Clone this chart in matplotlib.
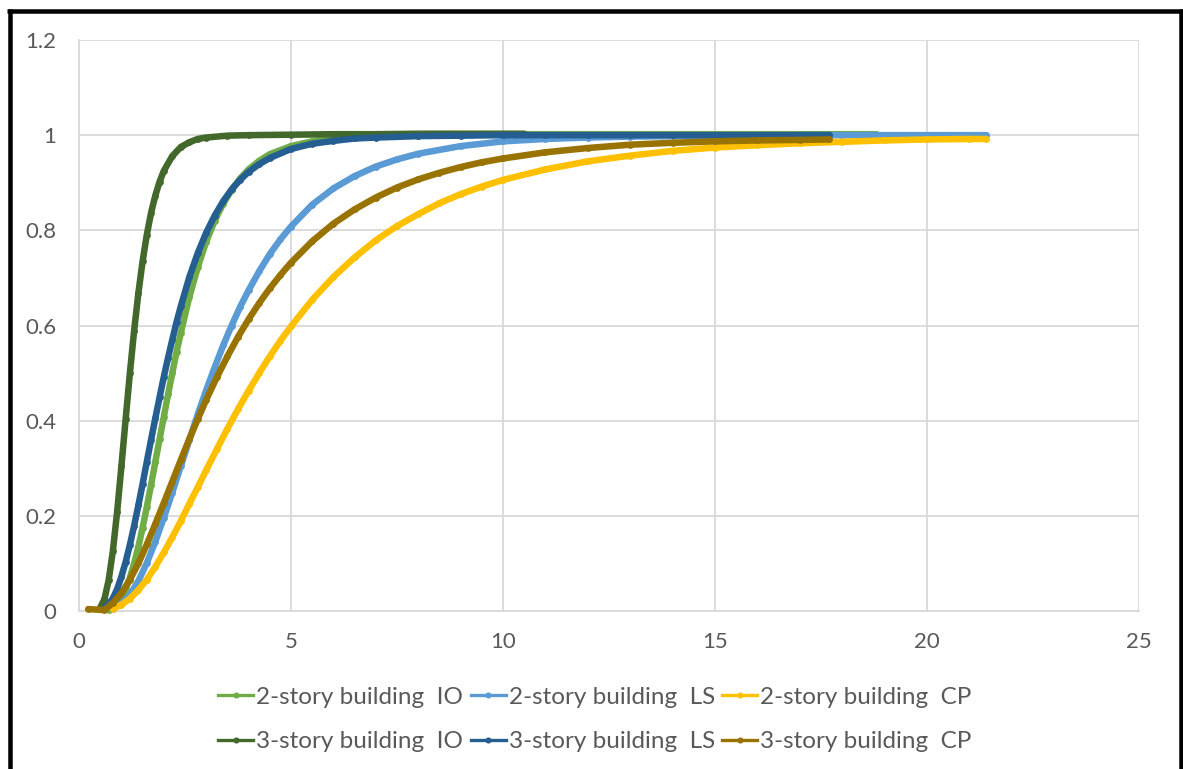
import matplotlib
matplotlib.use("Agg")
import matplotlib.pyplot as plt
from matplotlib.lines import Line2D

# Fragility curves: probability of exceedance vs. intensity measure
s2_io_x = [0.7, 0.8, 0.9, 1.0, 1.1, 1.2, 1.3, 1.4, 1.5, 1.6, 1.7, 1.8, 1.9, 2.0, 2.1, 2.2, 2.3, 2.4,
           2.6, 2.8, 3.0, 3.2, 3.4, 3.6, 3.8, 4.0, 4.25, 4.5, 5.0, 5.5, 6.0, 6.5, 7.0,
           8, 9, 10, 11, 12, 13, 14, 15, 16, 17, 18, 18.8]
s2_io_y = [0.003, 0.007, 0.015, 0.027, 0.046, 0.070, 0.100, 0.135, 0.175, 0.219, 0.265, 0.313, 0.361,
           0.408, 0.455, 0.500, 0.544, 0.584,
           0.659, 0.722, 0.776, 0.820, 0.856, 0.885, 0.909, 0.928, 0.946, 0.960,
           0.977, 0.987, 0.993, 0.996, 0.998,
           0.999, 1.000, 1.002, 1.002, 1.002, 1.002, 1.002, 1.002, 1.002, 1.002, 1.002, 1.002]

s2_ls_x = [0.8, 1.0, 1.2, 1.4, 1.6, 1.8, 2.0, 2.2, 2.4, 2.6, 2.8, 3.0, 3.2, 3.4, 3.6, 3.8, 4.0,
           4.25, 4.5, 4.75, 5.0, 5.5, 6.0, 6.5, 7.0, 7.5, 8,
           9, 10, 11, 12, 13, 14, 15, 16, 17, 18, 19, 20, 21, 21.4]
s2_ls_y = [0.005, 0.015, 0.034, 0.063, 0.101, 0.146, 0.196, 0.249, 0.304, 0.359, 0.413, 0.464, 0.512,
           0.558, 0.600, 0.639, 0.674,
           0.714, 0.750, 0.781, 0.808, 0.854, 0.888, 0.914, 0.934, 0.949, 0.961,
           0.977, 0.987, 0.992, 0.995, 0.997, 0.998, 0.999, 0.999, 1.0, 1.0, 1.0, 1.0, 1.0, 1.0]

s2_cp_x = [0.8, 1.0, 1.2, 1.4, 1.6, 1.8, 2.0, 2.2, 2.4, 2.6, 2.8, 3.0,
           3.25, 3.5, 3.75, 4.0, 4.25, 4.5, 4.75, 5.0,
           5.5, 6.0, 6.5, 7.0, 7.5, 8, 8.5, 9, 9.5, 10,
           11, 12, 13, 14, 15, 16, 17, 18, 19, 20, 21, 21.4]
s2_cp_y = [0.005, 0.013, 0.026, 0.044, 0.066, 0.093, 0.123, 0.155, 0.189, 0.225, 0.260, 0.296,
           0.340, 0.383, 0.424, 0.463, 0.500, 0.535, 0.568, 0.598,
           0.654, 0.702, 0.743, 0.779, 0.809, 0.834, 0.857, 0.876, 0.892, 0.906,
           0.928, 0.945, 0.957, 0.967, 0.974, 0.979, 0.983, 0.986, 0.989, 0.991, 0.992, 0.992]

s3_io_x = [0.5, 0.6, 0.7, 0.8, 0.9, 1.0, 1.1, 1.2, 1.3, 1.4, 1.5, 1.6, 1.7, 1.8, 1.9, 2.0,
           2.2, 2.4, 2.6, 2.8, 3.0, 3.5, 4.0, 5, 6, 7, 8, 9, 10, 10.5]
s3_io_y = [0.007, 0.025, 0.065, 0.127, 0.209, 0.304, 0.403, 0.500, 0.589, 0.668, 0.735, 0.791,
           0.837, 0.873, 0.902, 0.925,
           0.956, 0.975, 0.985, 0.992, 0.995, 0.999, 1.0, 1.001, 1.002, 1.002, 1.003, 1.003, 1.003, 1.003]

s3_ls_x = [0.6, 0.7, 0.8, 0.9, 1.0, 1.1, 1.2, 1.3, 1.4, 1.5, 1.6, 1.7, 1.8, 1.9, 2.0, 2.1, 2.2, 2.3, 2.4,
           2.6, 2.8, 3.0, 3.2, 3.4, 3.6, 3.8, 4.0, 4.25, 4.5, 5.0, 5.5, 6.0, 6.5, 7.0,
           8, 9, 10, 11, 12, 13, 14, 15, 16, 17, 17.7]
s3_ls_y = [0.006, 0.014, 0.027, 0.046, 0.072, 0.103, 0.139, 0.179, 0.222, 0.267, 0.314, 0.360, 0.405,
           0.449, 0.492, 0.532, 0.570, 0.607, 0.640,
           0.701, 0.752, 0.795, 0.831, 0.861, 0.886, 0.906, 0.923, 0.939, 0.952,
           0.971, 0.982, 0.988, 0.993, 0.995,
           0.998, 0.999, 1.0, 1.0, 1.0, 1.0, 1.0, 1.0, 1.0, 1.0, 1.0]

s3_cp_x = [0.22, 0.6, 0.8, 1.0, 1.2, 1.4, 1.6, 1.8, 2.0, 2.2, 2.4, 2.6, 2.8, 3.0,
           3.25, 3.5, 3.75, 4.0, 4.25, 4.5, 4.75, 5.0,
           5.5, 6.0, 6.5, 7.0, 7.5, 8, 8.5, 9, 9.5, 10,
           11, 12, 13, 14, 15, 16, 17, 17.7]
s3_cp_y = [0.004, 0.002, 0.017, 0.037, 0.066, 0.100, 0.140, 0.183, 0.227, 0.272, 0.317, 0.361, 0.403, 0.444,
           0.491, 0.535, 0.576, 0.613, 0.647, 0.678, 0.706, 0.732,
           0.777, 0.814, 0.844, 0.869, 0.890, 0.907, 0.921, 0.933, 0.943, 0.951,
           0.964, 0.973, 0.980, 0.984, 0.987, 0.989, 0.990, 0.991]

series = [
    ("2-story building  IO", s2_io_x, s2_io_y, "#70AD47"),
    ("2-story building  LS", s2_ls_x, s2_ls_y, "#5B9BD5"),
    ("2-story building  CP", s2_cp_x, s2_cp_y, "#FFC000"),
    ("3-story building  IO", s3_io_x, s3_io_y, "#43682B"),
    ("3-story building  LS", s3_ls_x, s3_ls_y, "#255E91"),
    ("3-story building  CP", s3_cp_x, s3_cp_y, "#997300"),
]

x_ticks = [0, 5, 10, 15, 20, 25]
y_ticks = [0, 0.2, 0.4, 0.6, 0.8, 1.0, 1.2]
y_tick_labels = ["0", "0.2", "0.4", "0.6", "0.8", "1", "1.2"]

plt.rcParams["font.family"] = ["Lato", "DejaVu Sans"]
TEXT = "#595959"
GRID = "#D9D9D9"

W, H = 1183, 769
fig = plt.figure(figsize=(W / 100, H / 100), dpi=100)
ax = fig.add_axes([79 / W, 1 - 611 / H, (1139 - 79) / W, (611 - 40) / H])

for i, (label, xs, ys, color) in enumerate(series):
    ax.plot(xs, ys, color=color, lw=4.7, marker="o", ms=4.9, mew=0,
            solid_joinstyle="round", solid_capstyle="round", zorder=3 + i, clip_on=False)

ax.set_xlim(0, 25)
ax.set_ylim(0, 1.2)
ax.set_xticks(x_ticks)
ax.set_xticklabels([str(t) for t in x_ticks])
ax.set_yticks(y_ticks)
ax.set_yticklabels(y_tick_labels)
ax.grid(True, color=GRID, lw=1.3, zorder=0)
ax.set_axisbelow(True)
for side, sp in ax.spines.items():
    if side in ("left", "bottom"):
        sp.set_color(GRID)
        sp.set_linewidth(1.3)
    else:
        sp.set_visible(False)
ax.tick_params(axis="both", length=0, colors=TEXT, labelsize=16)
ax.tick_params(axis="y", pad=16.5)
ax.tick_params(axis="x", pad=15)

# legend: two rows, three columns (row-major order)
handles = {}
for label, xs, ys, color in series:
    handles[label] = Line2D([], [], color=color, lw=2.4, marker="o", ms=4.4, mew=0)
order = [0, 3, 1, 4, 2, 5]
labels = [series[k][0] for k in order]
leg = fig.legend([handles[l] for l in labels], labels, loc="center",
                 bbox_to_anchor=(595 / W, 1 - 719.5 / H), ncol=3, frameon=False,
                 fontsize=17.5, handlelength=1.45, handletextpad=0.12, columnspacing=0.3,
                 labelspacing=0.98, borderaxespad=0)
for t in leg.get_texts():
    t.set_color(TEXT)

# black frame around the chart (left, top, right)
lw_px = 4.5
kw = dict(color="black", lw=lw_px * 72 / 100, solid_capstyle="butt")
fig.add_artist(Line2D([9.5 / W, 9.5 / W], [0, 1 - 9 / H], transform=fig.transFigure, **kw))
fig.add_artist(Line2D([7 / W, 1], [1 - 11.2 / H, 1 - 11.2 / H], transform=fig.transFigure, **kw))
fig.add_artist(Line2D([1181 / W, 1181 / W], [0, 1 - 9 / H], transform=fig.transFigure, **kw))

fig.savefig("out.png", dpi=100, facecolor="white")
